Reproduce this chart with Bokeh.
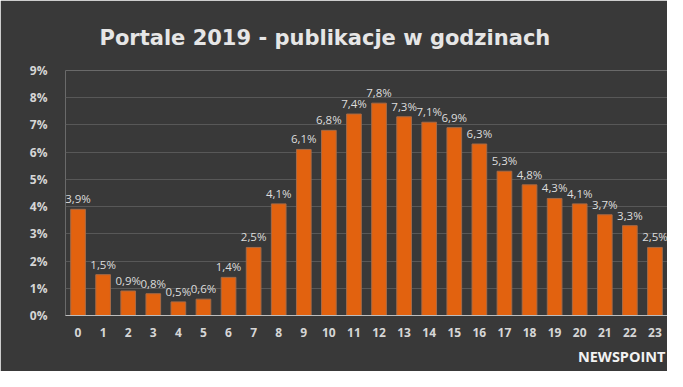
from bokeh.plotting import figure
from bokeh.models import ColumnDataSource, FixedTicker, Title, Range1d
from bokeh.core.properties import value
from bokeh.embed import file_html
from bokeh.resources import INLINE

hours = [str(h) for h in range(24)]
shares = [3.9, 1.5, 0.9, 0.8, 0.5, 0.6, 1.4, 2.5, 4.1, 6.1, 6.8, 7.4,
          7.8, 7.3, 7.1, 6.9, 6.3, 5.3, 4.8, 4.3, 4.1, 3.7, 3.3, 2.5]
y_ticks = [0, 1, 2, 3, 4, 5, 6, 7, 8, 9]
y_tick_labels = ["0%", "1%", "2%", "3%", "4%", "5%", "6%", "7%", "8%", "9%"]
title_text = "Portale  2019 - publikacje  w godzinach"
brand = "NEWSPOINT"

labels = [f"{v:.1f}".replace(".", ",") + "%" for v in shares]
src = ColumnDataSource(dict(x=list(range(24)), top=shares, lab=labels))

BG = "#393939"
FONT = "Open Sans"

p = figure(width=667, height=371, output_backend="svg", toolbar_location=None,
           x_range=Range1d(-0.5, 23.5), y_range=Range1d(0, 9),
           min_border_left=65, min_border_right=0, min_border_top=70,
           min_border_bottom=54)
p.background_fill_color = BG
p.border_fill_color = BG
p.outline_line_color = None

p.title.text = title_text
p.title.align = "left"
p.title.text_font = "DejaVu Sans"
p.title.text_font_style = "bold"
p.title.text_font_size = "21px"
p.title.text_color = "#e6e6e6"
p.title.standoff = 42
p.title.offset = 34

p.vbar(x="x", top="top", width=0.585, source=src, fill_color="#e2620f",
       line_color="#a86a45", line_width=1)
p.text(x="x", y="top", text="lab", source=src, text_align="center",
       text_baseline="bottom", y_offset=-3, text_font=value(FONT),
       text_font_size="11.5px", text_color="#dddddd")

p.xaxis.ticker = FixedTicker(ticks=list(range(24)))
p.xaxis.major_label_overrides = {i: h for i, h in enumerate(hours)}
p.yaxis.ticker = FixedTicker(ticks=y_ticks)
p.yaxis.major_label_overrides = {t: l for t, l in zip(y_ticks, y_tick_labels)}

for ax in (p.xaxis[0], p.yaxis[0]):
    ax.major_label_text_font = FONT
    ax.major_label_text_font_style = "bold"
    ax.major_label_text_font_size = "12px"
    ax.major_label_text_color = "#d6d6d6"
    ax.major_tick_line_color = None
    ax.minor_tick_line_color = None
p.xaxis.axis_line_color = "#bdbdbd"
p.xaxis.major_label_standoff = 6
p.yaxis.axis_line_color = None
p.yaxis.major_label_standoff = 12

p.xgrid.grid_line_color = None
p.ygrid.grid_line_color = "#585858"

brand_t = Title(text=brand, align="right", text_font=FONT, text_font_style="bold",
                text_font_size="14.5px", text_color="#f2f2f2", standoff=11, offset=2)
p.add_layout(brand_t, "below")

open("out.html", "w").write(file_html(p, INLINE))
